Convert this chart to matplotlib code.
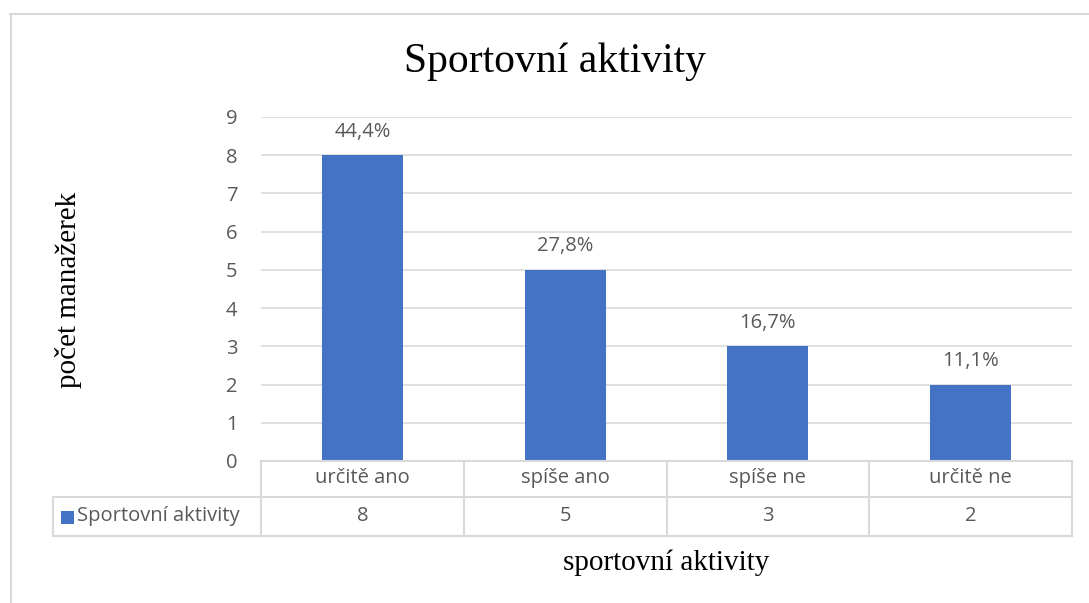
import matplotlib
matplotlib.use("Agg")
import matplotlib.pyplot as plt
import matplotlib.transforms as mtransforms
from matplotlib.patches import Rectangle

categories = ["určitě ano", "spíše ano", "spíše ne", "určitě ne"]
values = [8, 5, 3, 2]
series_name = "Sportovní aktivity"
title = "Sportovní aktivity"
xlabel = "sportovní aktivity"
ylabel = "počet manažerek"
yticks = list(range(0, 10))

W, H = 1089, 603
BAR = "#4472C4"
GRID = "#D9D9D9"
TXT = "#595959"
SERIF = "Liberation Serif"
SANS = "Open Sans"
FS = 14.5

fig = plt.figure(figsize=(W / 100, H / 100), dpi=100)
fy = lambda p: 1 - p / H
fx = lambda p: p / W

ax = fig.add_axes([fx(261), fy(461), fx(1072) - fx(261), fy(117) - fy(461)])
x = list(range(len(categories)))
ax.bar(x, values, width=0.4, color=BAR, zorder=3)
ax.set_xlim(-0.5, len(categories) - 0.5)
ax.set_ylim(0, 9)
ax.set_yticks(yticks)
ax.set_yticklabels([str(t) for t in yticks], fontsize=FS, color=TXT, family=SANS)
ax.tick_params(axis="y", length=0, pad=17)
ax.set_xticks([])
for s in ax.spines.values():
    s.set_visible(False)
for t in yticks[1:]:
    ax.axhline(t, color=GRID, lw=1.2, zorder=1)

total = sum(values)
for xi, v in zip(x, values):
    pct = f"{v / total * 100:.1f}%".replace(".", ",")
    ax.annotate(pct, (xi, v), xytext=(0, 17), textcoords="offset points",
                ha="center", va="center", fontsize=FS, color=TXT, family=SANS)

# data table
bt = mtransforms.blended_transform_factory(ax.transData, fig.transFigure)
kw = dict(color=GRID, lw=1.5, clip_on=False)
bounds = [i - 0.5 for i in range(len(categories) + 1)]
for b in bounds:
    ax.plot([b, b], [fy(461), fy(536)], transform=bt, **kw)
fig.add_artist(plt.Line2D([fx(261), fx(1072)], [fy(461), fy(461)], **kw))
fig.add_artist(plt.Line2D([fx(53), fx(1072)], [fy(497), fy(497)], **kw))
fig.add_artist(plt.Line2D([fx(53), fx(1072)], [fy(536), fy(536)], **kw))
fig.add_artist(plt.Line2D([fx(53), fx(53)], [fy(497), fy(536)], **kw))
for xi, c, v in zip(x, categories, values):
    ax.text(xi, fy(478), c, transform=bt, ha="center", va="center",
            fontsize=FS, color=TXT, family=SANS)
    ax.text(xi, fy(516), str(v), transform=bt, ha="center", va="center",
            fontsize=FS, color=TXT, family=SANS)
fig.add_artist(Rectangle((fx(61), fy(524)), fx(13), 13 / H, color=BAR, lw=0))
fig.text(fx(77), fy(516), series_name, ha="left", va="center",
         fontsize=FS, color=TXT, family=SANS)

# chart frame
fig.add_artist(plt.Line2D([fx(10.5), fx(10.5)], [fy(14), 0], color=GRID, lw=1.5))
fig.add_artist(plt.Line2D([fx(10), 1], [fy(14), fy(14)], color=GRID, lw=1.5))

fig.text(fx(555), fy(62), title, ha="center", va="center", fontsize=30,
         family=SERIF, color="black")
fig.text(fx(666), fy(563), xlabel, ha="center", va="center", fontsize=21,
         family=SERIF, color="black")
fig.text(fx(68), fy(290), ylabel, ha="center", va="center", rotation=90,
         fontsize=21, family=SERIF, color="black")

fig.savefig("out.png", dpi=100, facecolor="white")
